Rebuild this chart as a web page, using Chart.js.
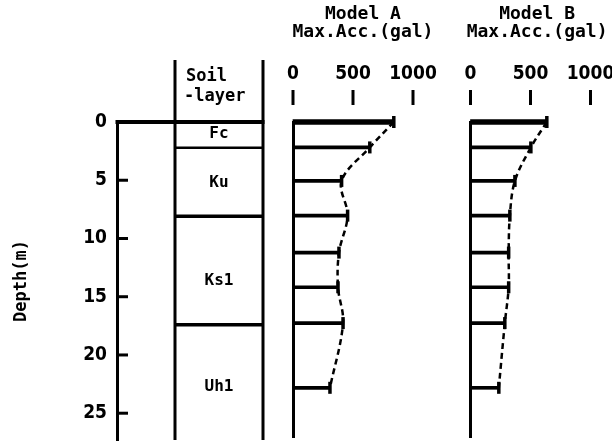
<!DOCTYPE html>
<html>
<head>
<meta charset="utf-8">
<script src="https://cdn.jsdelivr.net/npm/chart.js@4.4.1/dist/chart.umd.min.js"></script>
<style>
  html, body { margin: 0; padding: 0; background: #fff; }
  #wrap { position: relative; width: 612px; height: 447px; overflow: hidden; }
  #wrap canvas { position: absolute; left: 0; top: 0; }
</style>
</head>
<body>
<div id="wrap">
  <canvas id="soilChart" width="612" height="447"></canvas>
  <canvas id="modelA" width="612" height="447"></canvas>
  <canvas id="modelB" width="612" height="447"></canvas>
</div>
<script>
'use strict';

// ── data ──
const DEPTH_TICKS       = [0, 5, 10, 15, 20, 25];
const ACC_TICKS         = [0, 500, 1000];
const LAYER_NAMES       = ['Fc', 'Ku', 'Ks1', 'Uh1'];
const LAYER_TOPS        = [0, 2.2, 8.1, 17.4];
const LAYER_LABEL_DEPTH = [1.0, 5.2, 13.6, 22.7];
const OBS_DEPTH         = [0, 2.2, 5.1, 8.1, 11.3, 14.3, 17.4, 23.0];
const MODEL_A_ACC       = [840, 640, 405, 455, 383, 375, 417, 308];
const MODEL_B_ACC       = [636, 503, 370, 328, 318, 318, 286, 236];

const MONO = '"DejaVu Sans Mono", "Liberation Mono", monospace';
const NUM  = '"Liberation Sans Narrow", "DejaVu Sans Condensed", sans-serif';
const DEPTH_MAX = 27.3;

function strokeLine(ctx, x1, y1, x2, y2) {
  ctx.beginPath();
  ctx.moveTo(x1, y1);
  ctx.lineTo(x2, y2);
  ctx.stroke();
}

// soil column, surface line and inward depth ticks
const soilPlugin = {
  id: 'soilColumn',
  afterDraw(chart) {
    const { ctx, chartArea, scales: { y } } = chart;
    const colL = 175, colR = chartArea.right;
    const top0 = y.getPixelForValue(0);
    ctx.save();
    ctx.strokeStyle = '#000';
    ctx.fillStyle = '#000';

    ctx.lineWidth = 3;
    strokeLine(ctx, colL, 60, colL, y.bottom);
    strokeLine(ctx, colR, 60, colR, y.bottom);

    ctx.lineWidth = 4;
    strokeLine(ctx, chartArea.left - 1.5, top0, colR + 1.5, top0);

    LAYER_TOPS.slice(1).forEach((d, i) => {
      ctx.lineWidth = i === 0 ? 2.5 : 3.5;
      const py = y.getPixelForValue(d);
      strokeLine(ctx, colL, py, colR, py);
    });

    ctx.lineWidth = 3;
    DEPTH_TICKS.slice(1).forEach(v => {
      const py = y.getPixelForValue(v);
      strokeLine(ctx, chartArea.left, py, chartArea.left + 11, py);
    });

    ctx.textBaseline = 'middle';
    ctx.textAlign = 'center';
    ctx.font = `bold 16px ${MONO}`;
    LAYER_NAMES.forEach((name, i) => {
      ctx.fillText(name, (colL + colR) / 2, y.getPixelForValue(LAYER_LABEL_DEPTH[i]));
    });

    ctx.textAlign = 'left';
    ctx.font = `bold 17px ${MONO}`;
    ctx.fillText('Soil', 186, 77);
    ctx.fillText('-layer', 184, 97);
    ctx.restore();
  },
};

// model titles + acceleration ticks above each panel
const headerPlugin = {
  id: 'accHeader',
  afterDraw(chart, args, opts) {
    const { ctx, scales: { x } } = chart;
    const cx = x.getPixelForValue(opts.centerValue);
    ctx.save();
    ctx.fillStyle = '#000';
    ctx.strokeStyle = '#000';
    ctx.textAlign = 'center';
    ctx.textBaseline = 'middle';
    ctx.font = `bold 18px ${MONO}`;
    ctx.fillText(opts.title, cx, 14);
    ctx.fillText('Max.Acc.(gal)', cx, 32);

    ctx.font = `bold 19px ${NUM}`;
    ctx.lineWidth = 3;
    ACC_TICKS.forEach(v => {
      const px = x.getPixelForValue(v);
      ctx.fillText(String(v), px, 74);
      strokeLine(ctx, px, 90, px, 105);
    });
    ctx.restore();
  },
};

const depthScale = {
  type: 'linear',
  reverse: true,
  offset: false,
  min: 0,
  max: DEPTH_MAX,
  position: 'left',
};

new Chart(document.getElementById('soilChart'), {
  type: 'scatter',
  data: { datasets: [] },
  options: {
    responsive: false,
    animation: false,
    devicePixelRatio: 1,
    layout: { padding: { left: 0, right: 349, top: 122, bottom: 7 } },
    plugins: { legend: { display: false }, tooltip: { enabled: false } },
    scales: {
      x: { display: false, min: 0, max: 1 },
      y: {
        ...depthScale,
        afterBuildTicks: s => { s.ticks = DEPTH_TICKS.map(v => ({ value: v })); },
        afterFit: s => { s.width = 117; s.paddingTop = 0; s.paddingBottom = 0; },
        border: { display: true, color: '#000', width: 3 },
        grid: { display: false, drawTicks: false },
        ticks: { color: '#000', padding: 10, font: { family: NUM, size: 19, weight: 'bold' } },
        title: {
          display: true, text: 'Depth(m)', color: '#000',
          font: { family: MONO, size: 17, weight: 'bold' },
          padding: { top: 11, bottom: 0 },
        },
      },
    },
  },
  plugins: [soilPlugin],
});

function buildModelChart(canvasId, values, title, centerValue, padLeft, padRight) {
  const pts = values.map((v, i) => ({ x: v, y: OBS_DEPTH[i] }));
  return new Chart(document.getElementById(canvasId), {
    type: 'bar',
    data: {
      datasets: [
        {
          type: 'line',
          data: pts,
          borderColor: '#000',
          borderWidth: 2.5,
          borderDash: [6, 4],
          pointRadius: 0,
          tension: 0.35,
          fill: false,
          clip: false,
          order: 3,
        },
        {
          type: 'bar',
          data: pts.slice(1),
          backgroundColor: '#000',
          barThickness: 3,
          grouped: false,
          clip: false,
          order: 2,
        },
        {
          type: 'bar',
          data: pts.slice(0, 1),
          backgroundColor: '#000',
          barThickness: 5,
          grouped: false,
          clip: false,
          order: 2,
        },
        {
          type: 'scatter',
          data: pts,
          showLine: false,
          pointStyle: 'line',
          rotation: 90,
          pointRadius: 6,
          borderWidth: 3.5,
          borderColor: '#000',
          clip: false,
          order: 1,
        },
      ],
    },
    options: {
      indexAxis: 'y',
      responsive: false,
      animation: false,
      devicePixelRatio: 1,
      layout: { padding: { left: padLeft, right: padRight, top: 122, bottom: 7 } },
      plugins: {
        legend: { display: false },
        tooltip: { enabled: false },
        accHeader: { title, centerValue },
      },
      scales: {
        x: { type: 'linear', display: false, min: 0, max: 1000 },
        y: {
          ...depthScale,
          afterFit: s => { s.width = 0; },
          border: { display: true, color: '#000', width: 3 },
          grid: { display: false, drawTicks: false, offset: false },
          ticks: { display: false },
        },
      },
    },
    plugins: [headerPlugin],
  });
}

buildModelChart('modelA', MODEL_A_ACC, 'Model A', 583, 293, 612 - 413);
buildModelChart('modelB', MODEL_B_ACC, 'Model B', 555, 470.5, 612 - 590.5);
</script>
</body>
</html>
